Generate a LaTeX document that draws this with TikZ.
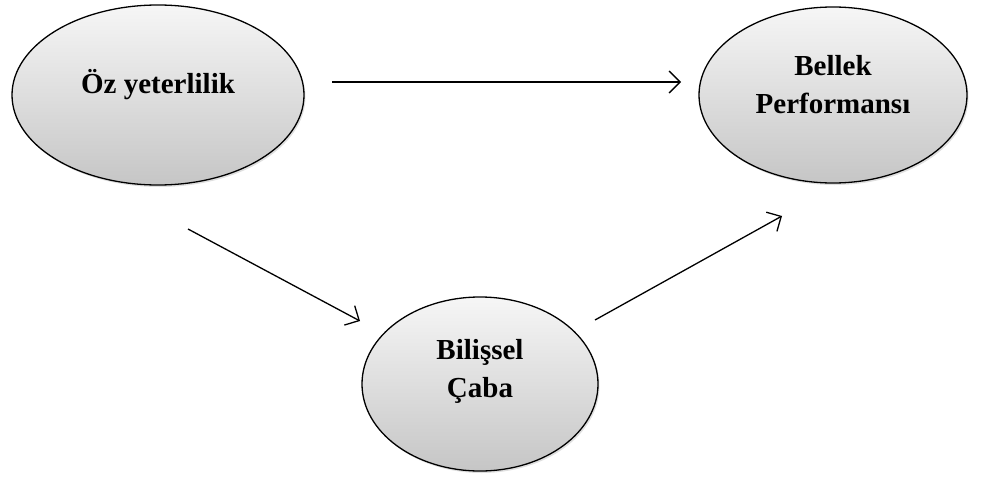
\documentclass[tikz,border=0pt]{standalone}
\usepackage{fontspec}
\setmainfont{Liberation Serif}
\usetikzlibrary{arrows.meta,shadows,shapes.geometric}
\begin{document}
\begin{tikzpicture}[x=1pt,y=-1pt,
  blob/.style={ellipse, draw=black, line width=1.3pt,
    top color=gray!7, bottom color=gray!45,
    drop shadow={shadow xshift=1.5pt, shadow yshift=-2pt, opacity=0.25},
    inner sep=0pt},
  caption/.style={font=\fontsize{29}{38}\selectfont\bfseries, align=center, inner sep=0pt},
  link/.style={line width=1.3pt, -{Straight Barb[length=11pt,width=22pt,line width=1.3pt]}}]
\useasboundingbox (0,0) rectangle (982,479);
% the three ellipses
\node[blob, minimum width=292pt, minimum height=180pt] (oz) at (158,95) {};
\node[blob, minimum width=268pt, minimum height=176pt] (bp) at (833,95) {};
\node[blob, minimum width=236pt, minimum height=174pt] (bc) at (480,384) {};
% their labels, set a little above centre
\node[caption] (ozt) at ([yshift=10pt]oz.center) {Öz yeterlilik};
\node[caption] (bpt) at ([yshift=10pt]bp.center) {Bellek\\Performansı};
\node[caption] (bct) at ([yshift=13pt]bc.center) {Bilişsel\\Çaba};
% free-standing arrows between the ellipses
\coordinate (a1s) at (332,82);
\coordinate (a1e) at (681,82);
\coordinate (a2s) at (188,229);
\coordinate (a2e) at (360,321);
\coordinate (a3s) at (595,320);
\coordinate (a3e) at (782,216);
\draw[link] (a1s) -- (a1e);
\draw[link] (a2s) -- (a2e);
\draw[link] (a3s) -- (a3e);
\end{tikzpicture}
\end{document}
